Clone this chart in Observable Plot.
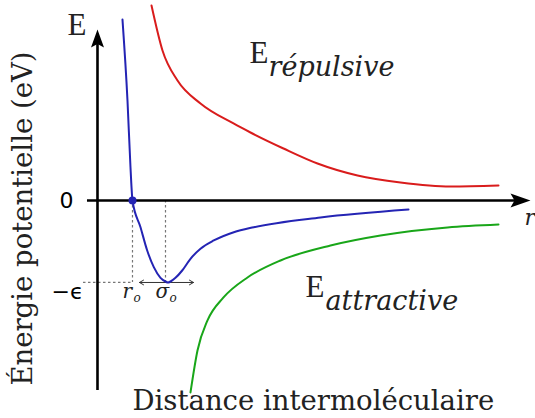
<!DOCTYPE html>
<html><head><meta charset="utf-8">
<script src="https://cdn.jsdelivr.net/npm/d3@7"></script>
<script src="https://cdn.jsdelivr.net/npm/@observablehq/plot@0.6"></script>
<style>body{margin:0;background:#fff} svg{display:block}</style>
</head><body><div id="chart"></div>
<script>
// Distances in units of r0, energies in units of epsilon
const r0 = 1.0;
const sigma0 = 1.943;
const eps = 1.0;

// Total potential (blue)
const totalR = [0.714, 0.857, 0.943, 1.0, 1.229, 1.42, 1.609, 1.8, 1.943, 2.014, 2.086, 2.229, 2.42, 2.657, 2.943, 3.323, 3.894, 4.466, 6.371, 8.886];
const totalE = [2.207, 1.220, 0.402, 0.0, -0.326, -0.610, -0.813, -0.943, -0.988, -1.0, -0.988, -0.943, -0.854, -0.711, -0.589, -0.488, -0.387, -0.326, -0.207, -0.110];
// Repulsive energy (red)
const repR = [1.543, 1.857, 2.286, 2.943, 3.886, 4.371, 5.314, 6.286, 7.429, 8.657, 10.086, 11.457];
const repE = [2.378, 1.829, 1.463, 1.183, 0.939, 0.829, 0.634, 0.451, 0.305, 0.220, 0.171, 0.183];
// Attractive energy (green)
const attR = [2.657, 2.857, 3.143, 3.6, 4.286, 5.229, 6.657, 8.086, 10.0, 11.457];
const attE = [-2.341, -1.829, -1.463, -1.183, -0.939, -0.732, -0.549, -0.427, -0.329, -0.293];

// Texts
const yTitle = "Énergie potentielle (eV)";
const xTitle = "Distance intermoléculaire";
const zeroLabel = "0";
const epsLabel = "−ϵ";

// Frame (data units)
const xDomain = [-2.771, 12.514];
const yDomain = [-2.659, 2.439];
const axisX = {x1: -0.286, x2: 11.95, tip: 12.371};
const axisY = {y1: -2.317, y2: 1.95, tip: 2.085};
const guideLeft = -0.4;
const spanLeft = 1.2, spanRight = 2.743;

const toPts = (xs, ys) => xs.map((x, i) => ({x, y: ys[i]}));
const blue = toPts(totalR, totalE), red = toPts(repR, repE), green = toPts(attR, attE);

const headUp = {draw(c) { c.moveTo(0, 0); c.lineTo(-6.5, 18); c.lineTo(0, 14.5); c.lineTo(6.5, 18); c.closePath(); }};
const headRight = {draw(c) { c.moveTo(0, 0); c.lineTo(-20, -7); c.lineTo(-16, 0); c.lineTo(-20, 7); c.closePath(); }};

const serif = "'Liberation Serif', serif";
const dserif = "'DejaVu Serif', serif";
const sans = "'DejaVu Sans', sans-serif";

const labels = [
  {x: -0.857, y: 2.024, text: "E", font: serif, size: 31, style: "normal"},
  {x: 4.343, y: 1.671, text: "E", font: serif, size: 31, style: "normal"},
  {x: 4.886, y: 1.524, text: "répulsive", font: dserif, size: 27, style: "italic"},
  {x: 5.943, y: -1.183, text: "E", font: serif, size: 31, style: "normal"},
  {x: 6.514, y: -1.341, text: "attractive", font: dserif, size: 27, style: "italic"},
  {x: 0.714, y: -1.195, text: "r", font: dserif, size: 20, style: "italic"},
  {x: 1.029, y: -1.244, text: "o", font: dserif, size: 12, style: "italic"},
  {x: 1.657, y: -1.195, text: "σ", font: dserif, size: 20, style: "italic"},
  {x: 2.057, y: -1.244, text: "o", font: dserif, size: 12, style: "italic"},
  {x: 12.2, y: -0.305, text: "r", font: dserif, size: 22, style: "italic"},
  {x: 1.0, y: -2.561, text: xTitle, font: dserif, size: 27.5, style: "normal"}
];

const plot = Plot.plot({
  width: 535, height: 418,
  marginLeft: 0, marginRight: 0, marginTop: 0, marginBottom: 0,
  x: {domain: xDomain, axis: null},
  y: {domain: yDomain, axis: null},
  marks: [
    // dotted guides
    Plot.ruleX([r0, sigma0], {y1: 0, y2: -eps, stroke: "#777", strokeWidth: 1.2, strokeDasharray: "2.5,2.5"}),
    Plot.ruleY([-eps], {x1: guideLeft, x2: r0, stroke: "#777", strokeWidth: 1.2, strokeDasharray: "2.5,2.5"}),
    Plot.arrow([{a: sigma0, b: spanLeft}, {a: sigma0, b: spanRight}], {x1: "a", x2: "b", y1: -eps, y2: -eps, stroke: "#333", strokeWidth: 1, headLength: 7}),
    // axes
    Plot.ruleY([0], {x1: axisX.x1, x2: axisX.x2, stroke: "#000", strokeWidth: 2.6}),
    Plot.ruleX([0], {y1: axisY.y1, y2: axisY.y2, stroke: "#000", strokeWidth: 2.6}),
    Plot.dot([{x: 0, y: axisY.tip}], {x: "x", y: "y", symbol: headUp, fill: "#000", stroke: "none"}),
    Plot.dot([{x: axisX.tip, y: 0}], {x: "x", y: "y", symbol: headRight, fill: "#000", stroke: "none"}),
    // curves
    Plot.line(red, {x: "x", y: "y", stroke: "#d91c1c", strokeWidth: 2, curve: "monotone-x"}),
    Plot.line(green, {x: "x", y: "y", stroke: "#19a619", strokeWidth: 2, curve: "monotone-x"}),
    Plot.line(blue, {x: "x", y: "y", stroke: "#2424b4", strokeWidth: 2, curve: "monotone-x"}),
    Plot.dot([{x: r0, y: 0}], {x: "x", y: "y", r: 4, fill: "#2424b4", stroke: "none"}),
    // tick labels
    Plot.text([zeroLabel], {x: -0.886, y: 0, text: d => d, fontFamily: sans, fontSize: 22, fill: "#000"}),
    Plot.text([epsLabel], {x: -0.857, y: -1.11, text: d => d, fontFamily: sans, fontSize: 22, fill: "#000"}),
    // y title
    Plot.text([yTitle], {x: -2.114, y: -0.22, text: d => d, rotate: -90, fontFamily: dserif, fontSize: 27.5, fill: "#222"}),
    // other labels
    ...labels.map(l => Plot.text([l], {x: "x", y: "y", text: "text", textAnchor: "start", lineAnchor: "bottom", fontFamily: l.font, fontSize: l.size, fontStyle: l.style, fill: "#222"}))
  ]
});
document.getElementById("chart").append(plot);
</script>
</body></html>
